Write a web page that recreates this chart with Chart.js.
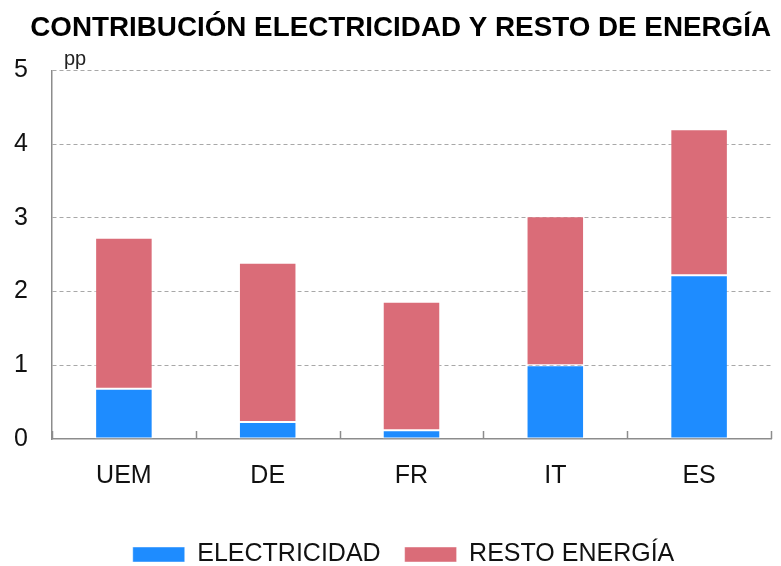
<!DOCTYPE html>
<html>
<head>
<meta charset="utf-8">
<script src="https://cdn.jsdelivr.net/npm/chart.js@4"></script>
<style>
  html, body { margin: 0; padding: 0; background: #fff; }
  #wrap { width: 781px; height: 566px; }
</style>
</head>
<body>
<div id="wrap"><canvas id="chart"></canvas></div>
<script>
const categories = ["UEM", "DE", "FR", "IT", "ES"];
const electricidad = [0.68, 0.23, 0.12, 1.0, 2.22];
const restoEnergia = [2.05, 2.16, 1.74, 2.02, 1.98];
const yTicks = [0, 1, 2, 3, 4, 5];

const FONT = "'Liberation Sans', Arial, sans-serif";

// small tick marks pointing up from the x axis, between categories
const innerTicks = {
  id: "innerTicks",
  afterLayout(chart) {
    // legend sits a bit right of the canvas centre in the original
    chart.legend.left += 12;
    chart.legend.right += 12;
  },
  afterDraw(chart) {
    const x = chart.scales.x;
    const ctx = chart.ctx;
    const bottom = chart.chartArea.bottom;
    ctx.save();
    ctx.strokeStyle = "#8c8c8c";
    ctx.lineWidth = 1.5;
    for (let i = 0; i <= categories.length; i++) {
      const px = Math.round(x.getPixelForValue(i - 0.5)) + 0.5;
      ctx.beginPath();
      ctx.moveTo(px, bottom - 8);
      ctx.lineTo(px, bottom);
      ctx.stroke();
    }
    // unit label
    ctx.fillStyle = "#222";
    ctx.font = "20px " + FONT;
    ctx.textBaseline = "bottom";
    ctx.fillText("pp", chart.chartArea.left + 12, chart.chartArea.top - 1);
    ctx.restore();
  }
};

new Chart(document.getElementById("chart"), {
  type: "bar",
  data: {
    labels: categories,
    datasets: [
      {
        label: "ELECTRICIDAD",
        data: electricidad,
        backgroundColor: "#1E8CFF",
        borderColor: "rgba(255,255,255,0.45)",
        borderWidth: 1,
        borderSkipped: false
      },
      {
        label: "RESTO ENERGÍA",
        data: restoEnergia,
        backgroundColor: "#DA6C78",
        borderColor: "rgba(255,255,255,0.45)",
        borderWidth: 1,
        borderSkipped: false
      }
    ]
  },
  options: {
    responsive: true,
    maintainAspectRatio: false,
    animation: false,
    layout: { padding: { left: 12, right: 10, top: 0, bottom: -11 } },
    datasets: { bar: { categoryPercentage: 1, barPercentage: 0.4 } },
    scales: {
      x: {
        stacked: true,
        grid: { display: false },
        border: { display: true, color: "#8c8c8c", width: 1.5 },
        ticks: { color: "#111", font: { family: FONT, size: 25 }, padding: 14 },
        afterFit(scale) {
          scale.height += 13;
          scale.paddingLeft = 0;
          scale.paddingRight = 0;
        }
      },
      y: {
        stacked: true,
        min: 0,
        max: 5,
        afterBuildTicks(scale) { scale.ticks = yTicks.map(v => ({ value: v })); },
        afterFit(scale) { scale.width = 40; },
        grid: {
          drawTicks: false,
          color: ctx => (ctx.tick && ctx.tick.value === 0 ? "rgba(0,0,0,0)" : "#a8a8a8"),
          lineWidth: 1
        },
        border: { display: true, color: "#8c8c8c", width: 1.5, dash: [4, 3] },
        ticks: { color: "#111", font: { family: FONT, size: 25 }, padding: 24 }
      }
    },
    plugins: {
      title: {
        display: true,
        text: "CONTRIBUCIÓN ELECTRICIDAD Y RESTO DE ENERGÍA",
        color: "#000",
        align: "end",
        font: { family: FONT, size: 27.8, weight: "bold" },
        padding: { top: 12, bottom: 25 }
      },
      legend: {
        position: "bottom",
        labels: {
          color: "#111",
          font: { family: FONT, size: 25 },
          boxWidth: 52,
          boxHeight: 15,
          padding: 24
        }
      },
      tooltip: { enabled: false }
    }
  },
  plugins: [innerTicks]
});
</script>
</body>
</html>
